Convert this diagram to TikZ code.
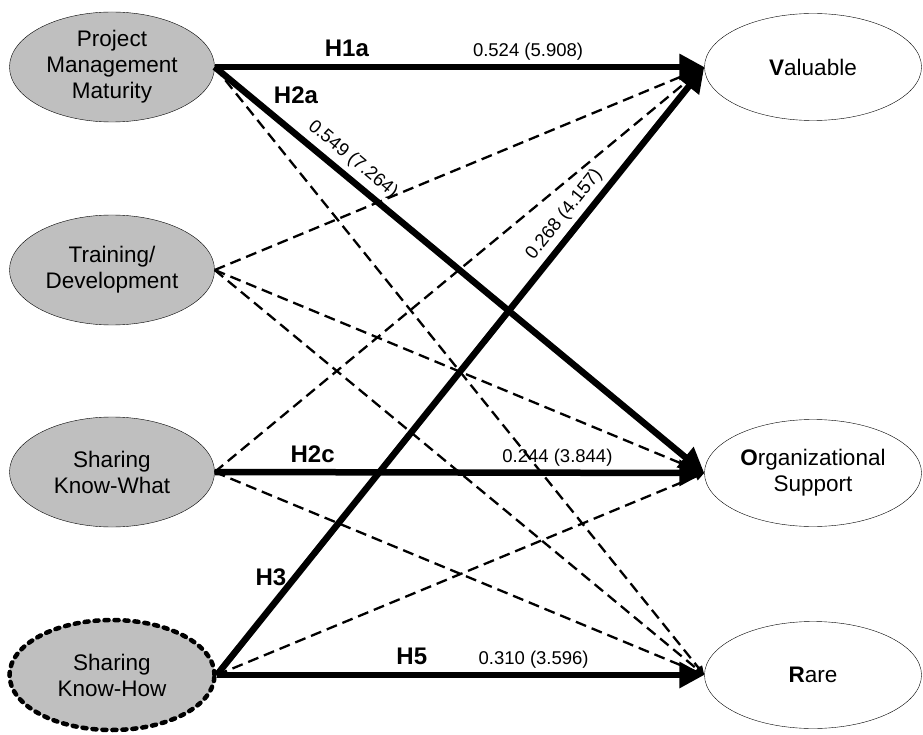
\documentclass[tikz,border=0pt]{standalone}
\usepackage{fontspec}
\setmainfont{Liberation Sans}
\usetikzlibrary{shapes.geometric,arrows.meta}

\begin{document}
\begin{tikzpicture}[x=1pt,y=-1pt,
    construct/.style={ellipse, draw=black, thin, fill=black!25, minimum width=205pt,
        minimum height=110pt, inner sep=0pt, align=center, font=\fontsize{22.5}{26}\selectfont},
    outcome/.style={ellipse, draw=black, thin, minimum width=217pt, minimum height=107pt,
        inner sep=0pt, align=center, font=\fontsize{22.5}{26}\selectfont},
    sig path/.style={line width=6.5pt, -{Triangle[length=25pt,width=25pt]}},
    ns path/.style={line width=2.3pt, dash pattern=on 11pt off 6pt, -{Triangle[length=9pt,width=8pt]}},
    hyp/.style={font=\fontsize{24}{24}\selectfont\bfseries, inner sep=1pt},
    coef/.style={font=\fontsize{18.5}{18.5}\selectfont, inner sep=2pt},]
    \useasboundingbox (0,0) rectangle (923,735);

    \pgfmathsetmacro{\lx}{112}
    \pgfmathsetmacro{\rx}{813}

    % left side
    \node[construct] (pmm) at (\lx,67) {Project\\Management\\Maturity};
    \node[construct] (train) at (\lx,270) {Training/\\Development};
    \node[construct] (skw) at (\lx,472) {Sharing\\Know-What};
    \node[construct, line width=4.5pt, dash pattern=on 4pt off 6pt, line cap=round] (skh) at (\lx,675) {Sharing\\Know-How};

    % right side
    \node[outcome] (val) at (\rx,67) {\textbf{V}aluable};
    \node[outcome] (org) at (\rx,473) {\textbf{O}rganizational\\Support};
    \node[outcome] (rare) at (\rx,675) {\textbf{R}are};

    \draw[ns path] (pmm.east) -- (rare.west);
    \draw[ns path] (train.east) -- (val.west);
    \draw[ns path] (train.east) -- (org.west);
    \draw[ns path] (train.east) -- (rare.west);
    \draw[ns path] (skw.east) -- (val.west);
    \draw[ns path] (skw.east) -- (rare.west);
    \draw[ns path] (skh.east) -- (org.west);

    \draw[sig path] (pmm.east) -- node[hyp, pos=0.27, above=6pt] {H1a}
        node[coef, pos=0.64, above=1pt] {0.524 (5.908)} (val.west);
    \draw[sig path] (pmm.east) -- node[coef, pos=0.26, sloped, above=3pt] {0.549 (7.264)} (org.west);
    \draw[sig path] (skh.east) -- node[coef, pos=0.74, sloped, above=3pt] {0.268 (4.157)} (val.west);
    \draw[sig path] (skw.east) -- node[hyp, pos=0.20, above=5pt] {H2c}
        node[coef, pos=0.70, above=1pt] {0.244 (3.844)} (org.west);
    \draw[sig path] (skh.east) -- node[hyp, pos=0.40, above=6pt] {H5}
        node[coef, pos=0.65, above=1pt] {0.310 (3.596)} (rare.west);

    \node[hyp] (h2a) at (296,95) {H2a};
    \node[hyp] (h3) at (271,577) {H3};

\end{tikzpicture}
\end{document}
